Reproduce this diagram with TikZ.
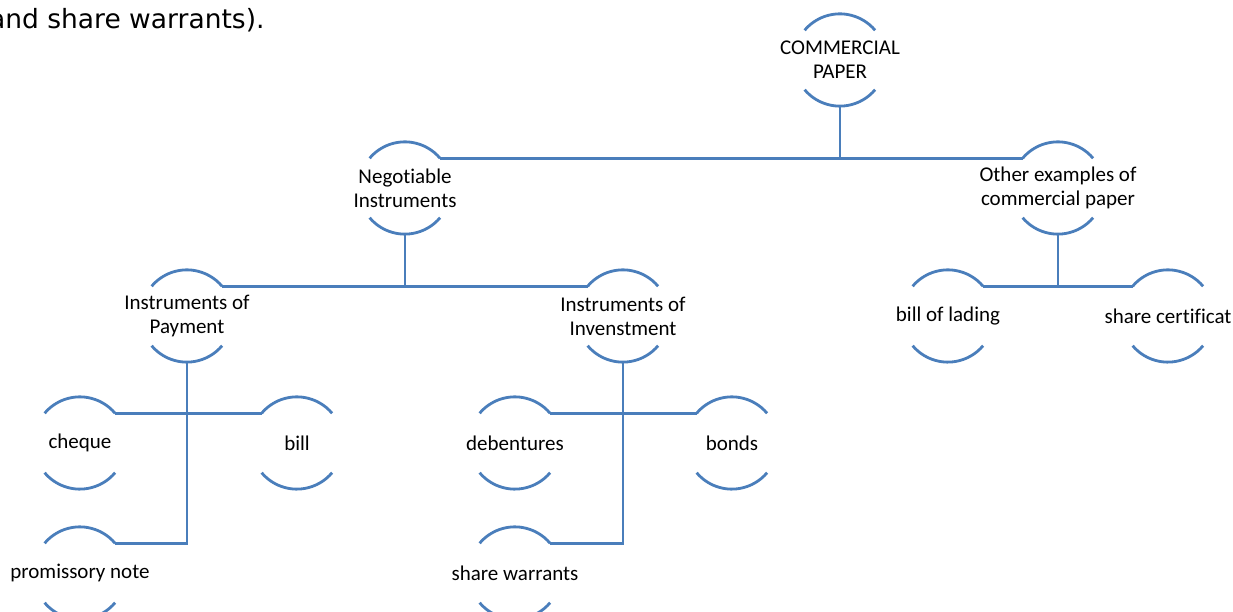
\documentclass[tikz,border=0pt]{standalone}
\usepackage{fontspec}
\setmainfont{Carlito}[Ligatures=NoCommon]
\newfontfamily\verdanalike{DejaVu Sans}
\usepackage{tikz}
\definecolor{linkblue}{RGB}{74,126,187}

\begin{document}
\begin{tikzpicture}[x=1pt,y=1pt,
  link/.style={draw=linkblue,line width=2.8pt},
  hub/.style={circle,minimum size=92pt,inner sep=0pt},
  txt/.style={align=center,font=\fontsize{21}{24}\selectfont}]
\useasboundingbox (0,0) rectangle (1233,612);
\node[anchor=base east,font=\verdanalike\fontsize{26.5}{30}\selectfont] (cap) at (268,583) {and share warrants).};
% top level
\node[hub,label={[txt]center:{COMMERCIAL\\PAPER}}] (cp) at (840,552) {};
\node[hub,label={[txt]center:{Negotiable\\Instruments}}] (ni) at (405,424) {};
\node[hub,label={[txt]center:{Other examples of\\commercial paper}}] (oe) at (1058,424) {};
% second level
\node[hub,label={[txt]center:{Instruments of\\Payment}}] (ip) at (187,296) {};
\node[hub,label={[txt]center:{Instruments of\\Invenstment}}] (iv) at (623,296) {};
\node[hub,label={[txt]center:{bill of lading}}] (bl) at (948,296) {};
\node[hub,label={[txt]center:{share certificat}}] (sc) at (1168,296) {};
% third level
\node[hub,label={[txt]center:{cheque}}] (ch) at (80,169) {};
\node[hub,label={[txt]center:{bill}}] (bi) at (297,169) {};
\node[hub,label={[txt]center:{promissory note}}] (pn) at (80,39) {};
\node[hub,label={[txt]center:{debentures}}] (de) at (515,169) {};
\node[hub,label={[txt]center:{bonds}}] (bo) at (732,169) {};
\node[hub,label={[txt]center:{share warrants}}] (sw) at (515,39) {};
% arcs round every node
\foreach \n in {cp,ni,oe,ip,iv,bl,sc,ch,bi,pn,de,bo,sw}{
  \draw[link] (\n.140) arc (140:40:46);
  \draw[link] (\n.220) arc (220:320:46);
}
% connectors
\draw[link] (cp.south) -- (cp.south |- ni.40);
\draw[link] (ni.40) -- (oe.140);
\draw[link] (ni.south) -- (ni.south |- ip.40);
\draw[link] (ip.40) -- (iv.140);
\draw[link] (oe.south) -- (oe.south |- bl.40);
\draw[link] (bl.40) -- (sc.140);
\draw[link] (ip.south) |- (pn.40);
\draw[link] (ch.40) -- (bi.140);
\draw[link] (iv.south) |- (sw.40);
\draw[link] (de.40) -- (bo.140);
\end{tikzpicture}
\end{document}
